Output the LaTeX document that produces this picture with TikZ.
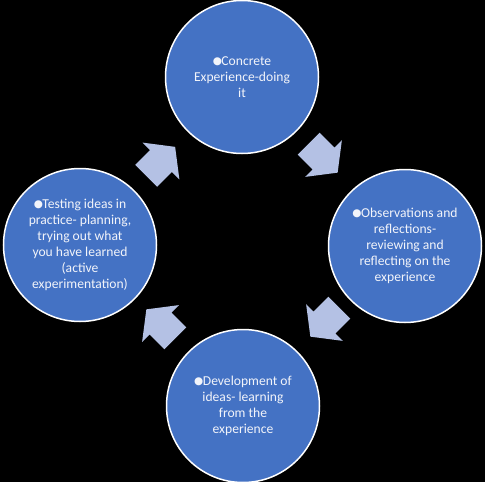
\documentclass[tikz,border=0pt]{standalone}
\usepackage{fontspec}
\setmainfont{Carlito}
\newfontfamily\symfont{DejaVu Sans}
\definecolor{circblue}{HTML}{4472C4}
\definecolor{arrowblue}{HTML}{B4C1E4}
\definecolor{textwhite}{HTML}{F2F4FA}
\newcommand\bul{\raisebox{1pt}{\symfont\fontsize{10.5}{10}\selectfont ●}\hspace{-0.5pt}}
\tikzset{
  stage/.style={circle, fill=circblue, draw=white, line width=1.5pt, minimum size=153pt,
    inner sep=0pt, text=textwhite, align=center, font=\fontsize{13.6}{16}\selectfont},
  pics/cyclearrow/.style={code={
    \fill[arrowblue] (-21,-15.5) -- (0,-15.5) -- (0,-26) -- (20,0) -- (0,26) -- (0,15.5) -- (-21,15.5) -- cycle;}}
}
\begin{document}
\begin{tikzpicture}[x=1pt,y=-1pt]
\fill[black] (0,0) rectangle (485,482);
\useasboundingbox (0,0) rectangle (485,482);
\node[stage] (ce) at (242,77) {\bul Concrete\\Experience-doing\\it};
\node[stage] (or) at (405,246) {\bul Observations and\\reflections-\\reviewing and\\reflecting on the\\experience};
\node[stage] (di) at (243,406) {\bul Development of\\ideas- learning\\from the\\experience};
\node[stage] (ti) at (80,245) {\bul Testing ideas in\\practice- planning,\\trying out what\\you have learned\\(active\\experimentation)};
\pic[rotate=-45] (a1) at (323.5,158.5) {cyclearrow};
\pic[rotate=-135] (a2) at (324.5,322.5) {cyclearrow};
\pic[rotate=135] (a3) at (160.5,323.5) {cyclearrow};
\pic[rotate=45] (a4) at (161,161) {cyclearrow};
\end{tikzpicture}
\end{document}
